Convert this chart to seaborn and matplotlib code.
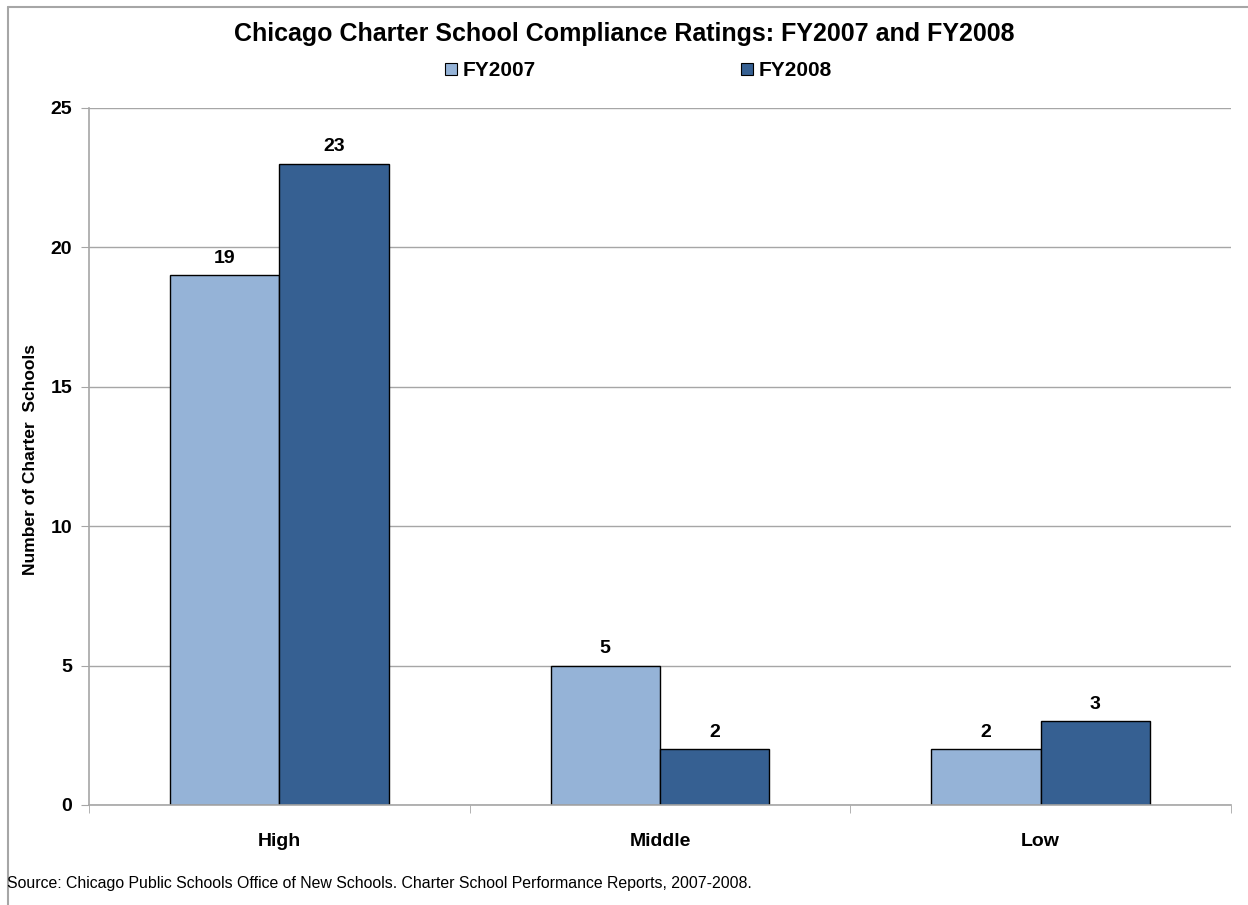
import pandas as pd
import matplotlib.pyplot as plt
import seaborn as sns
from matplotlib.lines import Line2D

ratings = ['High', 'Middle', 'Low']
fy2007 = [19, 5, 2]
fy2008 = [23, 2, 3]
years = ['FY2007', 'FY2008']
colors = ['#95B3D7', '#366092']

df = pd.DataFrame({
    'Rating': ratings * 2,
    'Year': [years[0]] * 3 + [years[1]] * 3,
    'Count': fy2007 + fy2008,
})

sns.set_style('white')
plt.rcParams['font.family'] = ['Liberation Sans', 'DejaVu Sans']
plt.rcParams['text.color'] = 'black'
plt.rcParams['axes.labelcolor'] = 'black'
plt.rcParams['xtick.labelcolor'] = 'black'
plt.rcParams['ytick.labelcolor'] = 'black'

fig = plt.figure(figsize=(12.48, 9.05), dpi=100)
ax = fig.add_axes([0.0713, 0.1105, 0.9151, 0.7702])

sns.barplot(data=df, x='Rating', y='Count', hue='Year', palette=colors,
            saturation=1, width=0.575, edgecolor='black', linewidth=1,
            ax=ax, legend=False)

for container in ax.containers:
    ax.bar_label(container, padding=6, fontsize=14, fontweight='bold')

ax.set_ylim(0, 25)
ax.set_xlim(-0.5, 2.5)
ax.set_yticks([0, 5, 10, 15, 20, 25])
ax.yaxis.grid(True, color='#A6A6A6', linewidth=1)
ax.set_axisbelow(True)

for side in ['top', 'right']:
    ax.spines[side].set_visible(False)
for side in ['left', 'bottom']:
    ax.spines[side].set_color('#A6A6A6')
    ax.spines[side].set_linewidth(1.2)

ax.tick_params(axis='y', which='major', left=True, length=6, color='#A6A6A6',
               labelsize=14, pad=6)
ax.tick_params(axis='x', which='major', bottom=False, labelsize=14, pad=17)
ax.set_xticks([-0.5, 0.5, 1.5, 2.5], minor=True)
ax.tick_params(axis='x', which='minor', bottom=True, length=6, color='#A6A6A6')
for lab in ax.get_xticklabels() + ax.get_yticklabels():
    lab.set_fontweight('bold')

ax.set_xlabel('')
ax.set_ylabel('Number of Charter  Schools', fontsize=12.5, fontweight='bold')
ax.yaxis.set_label_coords(-0.045, 0.495)

fig.text(0.5, 0.962, 'Chicago Charter School Compliance Ratings: FY2007 and FY2008',
         ha='center', va='center', fontsize=18, fontweight='bold')

handles = [Line2D([], [], marker='s', linestyle='none', markersize=8,
                  markerfacecolor=c, markeredgecolor='black', markeredgewidth=0.8)
           for c in colors]
fig.legend(handles, years, loc='center', bbox_to_anchor=(0.511, 0.922), ncol=2,
           frameon=False, columnspacing=9.8, handletextpad=0.2, handlelength=0.7,
           prop={'weight': 'bold', 'size': 15})

fig.text(0.0055, 0.024, 'Source: Chicago Public Schools Office of New Schools. '
         'Charter School Performance Reports, 2007-2008.',
         ha='left', va='center', fontsize=11.4)

fig.add_artist(Line2D([0.0065, 0.0065], [0, 0.992], color='#A6A6A6', linewidth=1.5))
fig.add_artist(Line2D([0.0065, 1.0], [0.992, 0.992], color='#A6A6A6', linewidth=1.5))

fig.savefig('out.png', dpi=100)
